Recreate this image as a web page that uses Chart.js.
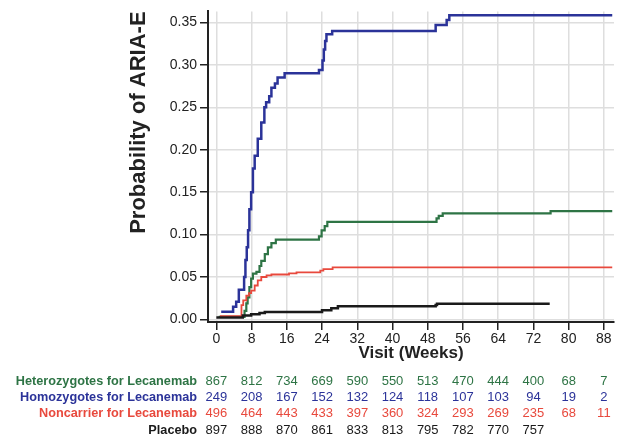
<!DOCTYPE html>
<html>
<head>
<meta charset="utf-8">
<script src="https://cdn.jsdelivr.net/npm/chart.js@4.4.1/dist/chart.umd.min.js"></script>
<style>
  body { margin: 0; background: #fff; }
</style>
</head>
<body>
<canvas id="km" width="619" height="440"></canvas>
<script>
// step points: [week, cumulative probability]
const heteroSteps = [[0.5,0.003],[6.4,0.010],[6.8,0.019],[7.1,0.026],[7.5,0.038],[7.9,0.048],[8.3,0.054],[9.1,0.056],[9.8,0.063],[10.2,0.069],[11.0,0.077],[11.7,0.085],[12.5,0.090],[13.5,0.094],[23.3,0.098],[23.9,0.105],[24.6,0.110],[25.2,0.115],[50.0,0.119],[50.5,0.122],[51.4,0.125],[75.9,0.1277],[89.9,0.1277]];
const homoSteps = [[1.1,0.009],[3.8,0.015],[4.5,0.021],[5.1,0.035],[6.3,0.050],[6.6,0.070],[6.9,0.085],[7.2,0.105],[7.5,0.130],[7.9,0.150],[8.3,0.178],[8.7,0.193],[9.4,0.213],[10.2,0.232],[10.9,0.250],[11.3,0.256],[12.0,0.263],[12.5,0.273],[13.3,0.278],[13.9,0.285],[15.5,0.290],[23.3,0.294],[24.1,0.305],[24.4,0.318],[24.7,0.328],[25.0,0.336],[26.3,0.340],[49.8,0.347],[52.3,0.353],[52.9,0.3585],[89.9,0.3585]];
const noncarrierSteps = [[0.8,0.004],[5.7,0.017],[6.1,0.0225],[6.8,0.028],[7.4,0.031],[7.9,0.034],[8.7,0.040],[9.4,0.046],[10.2,0.050],[11.4,0.052],[12.5,0.053],[16.5,0.0543],[18.2,0.0555],[23.6,0.0575],[24.3,0.0594],[26.4,0.0613],[89.9,0.0613]];
const placeboSteps = [[0,0.0023],[6.0,0.0047],[7.9,0.006],[9.8,0.0077],[11.0,0.0089],[24.0,0.0108],[26.1,0.0132],[27.6,0.0155],[49.8,0.017],[50.1,0.0186],[75.7,0.0186]];

// number at risk
const riskWeeks = [0, 8, 16, 24, 32, 40, 48, 56, 64, 72, 80, 88];
const heteroRisk = [867, 812, 734, 669, 590, 550, 513, 470, 444, 400, 68, 7];
const homoRisk = [249, 208, 167, 152, 132, 124, 118, 107, 103, 94, 19, 2];
const noncarrierRisk = [496, 464, 443, 433, 397, 360, 324, 293, 269, 235, 68, 11];
const placeboRisk = [897, 888, 870, 861, 833, 813, 795, 782, 770, 757];

const xTicks = [0, 8, 16, 24, 32, 40, 48, 56, 64, 72, 80, 88];
const yTicks = [0, 0.05, 0.10, 0.15, 0.20, 0.25, 0.30, 0.35];

const GREEN = '#2e7445', BLUE = '#2b3399', RED = '#e8493d', BLACK = '#1a1a1a';
const FONT = '"Liberation Sans", Arial, Helvetica, sans-serif';
Chart.defaults.font.family = FONT;

const riskRows = [
    { label: 'Heterozygotes for Lecanemab', color: GREEN, counts: heteroRisk },
    { label: 'Homozygotes for Lecanemab', color: BLUE, counts: homoRisk },
    { label: 'Noncarrier for Lecanemab', color: RED, counts: noncarrierRisk },
    { label: 'Placebo', color: BLACK, counts: placeboRisk }
];

function toPoints(steps)
{
    return steps.map((s) => ({ x: s[0], y: s[1] }));
}

// draws the number-at-risk table under the x axis
const riskTable = {
    id: 'riskTable',
    afterDraw(chart) {
        const ctx = chart.ctx;
        const xs = chart.scales.x;
        ctx.save();
        ctx.textBaseline = 'middle';
        riskRows.forEach((row, i) => {
            const y = 381 + i * 16.4;
            ctx.fillStyle = row.color;
            ctx.font = 'bold 12.7px ' + FONT;
            ctx.textAlign = 'right';
            ctx.fillText(row.label, 197, y);
            ctx.font = '13px ' + FONT;
            ctx.textAlign = 'center';
            row.counts.forEach((n, j) => {
                ctx.fillText(String(n), xs.getPixelForValue(riskWeeks[j]), y);
            });
        });
        ctx.restore();
    }
};

function line(label, steps, color, width)
{
    return {
        label: label,
        data: toPoints(steps),
        borderColor: color,
        backgroundColor: color,
        borderWidth: width,
        stepped: 'before',
        pointRadius: 0,
        fill: false
    };
}

const grid = { color: '#dedede', lineWidth: 1.5, tickColor: '#222', tickLength: 8, tickWidth: 1.5 };

new Chart(document.getElementById('km').getContext('2d'), {
    type: 'line',
    data: {
        datasets: [
            line('Placebo', placeboSteps, BLACK, 2.5),
            line('Noncarrier for Lecanemab', noncarrierSteps, RED, 1.8),
            line('Heterozygotes for Lecanemab', heteroSteps, GREEN, 2.2),
            line('Homozygotes for Lecanemab', homoSteps, BLUE, 2.5)
        ]
    },
    options: {
        responsive: false,
        animation: false,
        layout: { padding: { left: 126, right: 5, top: 8, bottom: 76 } },
        plugins: { legend: { display: false }, tooltip: { enabled: false } },
        scales: {
            x: {
                type: 'linear',
                min: -1.9,
                max: 90.3,
                afterBuildTicks: (s) => { s.ticks = xTicks.map((v) => ({ value: v })); },
                afterFit: (s) => { s.height = 42; },
                ticks: { font: { size: 14 }, color: '#222', padding: 1, maxRotation: 0 },
                grid: grid,
                border: { color: '#222', width: 2 },
                title: { display: true, text: 'Visit (Weeks)', font: { size: 17, weight: 'bold' }, color: '#222', padding: 0 }
            },
            y: {
                type: 'linear',
                min: -0.003,
                max: 0.363,
                afterBuildTicks: (s) => { s.ticks = yTicks.map((v) => ({ value: v })); },
                afterFit: (s) => { s.width = 82; },
                ticks: { font: { size: 14 }, color: '#222', padding: 3, callback: (v) => v.toFixed(2) },
                grid: grid,
                border: { color: '#222', width: 2 },
                title: { display: true, text: 'Probability of ARIA-E', align: 'end', font: { size: 22, weight: 'bold' }, color: '#222', padding: 0 }
            }
        }
    },
    plugins: [riskTable]
});
</script>
</body>
</html>
